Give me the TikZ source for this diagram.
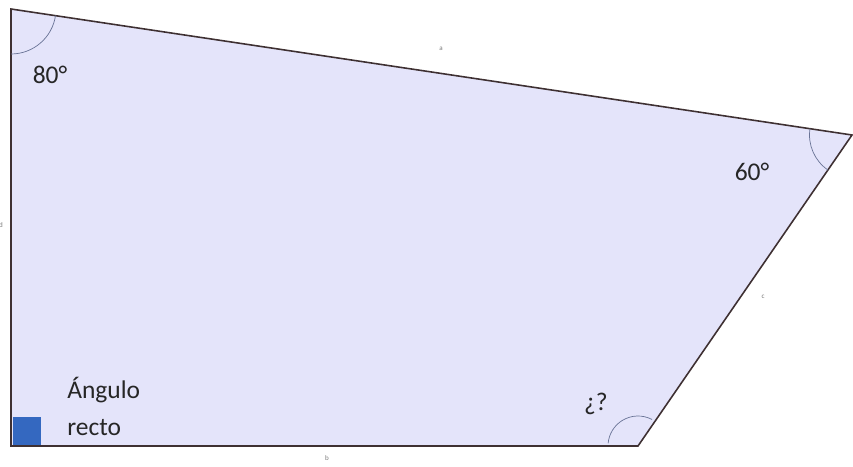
\documentclass[tikz,border=0pt]{standalone}
\usepackage{fontspec}
\setmainfont{Carlito}
\usepackage{tikz}
\usetikzlibrary{
	positioning,
	calc
}
\definecolor{PlaneLavender}{RGB}{228,228,250}
\definecolor{EdgeBrown}{RGB}{62,48,50}
\definecolor{ArcGrey}{RGB}{105,115,150}
\definecolor{RightBlue}{RGB}{52,104,192}
\definecolor{TinyGrey}{RGB}{120,120,120}

\tikzset{
	anglelabel/.style={
		font=\fontsize{14.5}{17}\selectfont,
		text=black!85,
		inner sep=0pt
	},
	sidelabel/.style={
		font=\fontsize{4}{5}\selectfont,
		text=TinyGrey,
		inner sep=0pt
	},
	anglearc/.style={
		ArcGrey,
		thin
	}
}

\begin{document}
\begin{tikzpicture}
				
				\useasboundingbox (0,0) rectangle (17.06,9.32);
				
				\coordinate (A) at (0.22,9.14);
				\coordinate (B) at (17.04,6.62);
				\coordinate (C) at (12.76,0.40);
				\coordinate (D) at (0.22,0.40);
				
				\draw[
				EdgeBrown,
				fill=PlaneLavender,
				line width=0.9pt
				]
				(A) -- (B) -- (C) -- (D) -- cycle;
				
				\fill[
				RightBlue
				]
				(0.26,0.42) rectangle (0.82,0.98);
				
				\draw[anglearc] ([shift={(-8.5:0.9)}]A) arc[start angle=-8.5,end angle=-90,radius=0.9];
				\draw[anglearc] ([shift={(171.5:0.85)}]B) arc[start angle=171.5,end angle=235.5,radius=0.85];
				\draw[anglearc] ([shift={(62:0.6)}]C) arc[start angle=62,end angle=175,radius=0.6];
				
				\node[anglelabel] (angA) at (1.0,7.82) {80°};
				\node[anglelabel] (angB) at (15.04,5.88) {60°};
				\node[anglelabel] (angC) at (11.92,1.24) {¿?};
				\node[
				anglelabel,
				anchor=west,
				align=left,
				font=\fontsize{14.5}{21}\selectfont
				]
				(rectolabel) at (1.34,1.19)
				{
					Ángulo\\recto
				};
				
				\node[sidelabel] (sideA) at (8.82,8.34) {a};
				\node[sidelabel] (sideB) at (6.54,0.16) {b};
				\node[sidelabel] (sideC) at (15.26,3.38) {c};
				\node[sidelabel] (sideD) at (0.02,4.82) {d};
				
			\end{tikzpicture}
\end{document}
